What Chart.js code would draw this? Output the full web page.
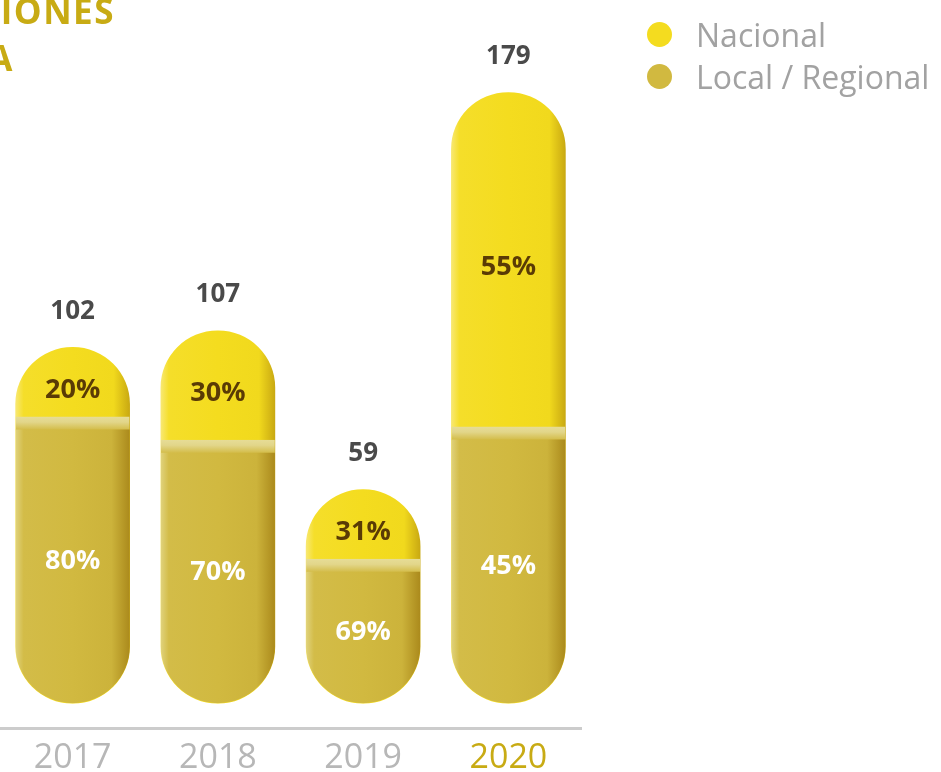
<!DOCTYPE html>
<html>
<head>
<meta charset="utf-8">
<script src="https://cdn.jsdelivr.net/npm/chart.js@4/dist/chart.umd.min.js"></script>
<style>
  html, body { margin: 0; padding: 0; background: #ffffff; }
  #wrap { position: relative; width: 941px; height: 772px; overflow: hidden; }
  #chart { position: absolute; left: 0; top: 0; }
  .title { position: absolute; font-family: 'Open Sans', sans-serif; font-weight: 700; font-size: 35px;
           letter-spacing: 1.5px; color: #c8ab14; white-space: nowrap; text-align: right; line-height: 1; }
  #legend { position: absolute; left: 647px; top: 13px; font-family: 'Open Sans', sans-serif; }
  .lg { display: flex; align-items: center; height: 42px; font-size: 32px; color: #a2a2a2; }
  .dot { width: 25px; height: 25px; border-radius: 50%; margin-right: 24px; }
</style>
</head>
<body>
<div id="wrap">
  <canvas id="chart" width="941" height="788"></canvas>
  <div class="title" style="right:826px; top:-7px;">PUBLICACIONES</div>
  <div class="title" style="right:927px; top:40px;">POR COBERTURA</div>
  <div id="legend"></div>
</div>
<script>
// ---- data ----
const years = ['2017', '2018', '2019', '2020'];
const totals = [102, 107, 59, 179];          // whole pill (total publications)
const localCounts = [81, 74, 38, 78];        // Local / Regional part (height)
const nacionalPct = ['20%', '30%', '31%', '55%'];
const localPct = ['80%', '70%', '69%', '45%'];
const seriesNames = ['Nacional', 'Local / Regional'];
const seriesColors = ['#f4dc1f', '#d1b940'];

const BAR_W = 114;
const BAR_BASE = -5.5;

function hGrad(chart, idx, stops) {
  const xs = chart.scales.x;
  if (!xs || !chart.chartArea) return stops[2][1];
  const cx = xs.getPixelForValue(idx);
  const g = chart.ctx.createLinearGradient(cx - BAR_W / 2, 0, cx + BAR_W / 2, 0);
  stops.forEach(s => g.addColorStop(s[0], s[1]));
  return g;
}
function bandGrad(chart, idx) {
  const ys = chart.scales.y;
  if (!ys || !chart.chartArea) return '#e4d98f';
  const top = ys.getPixelForValue(localCounts[idx]);
  const g = chart.ctx.createLinearGradient(0, top, 0, top + 13);
  g.addColorStop(0, '#e6dc96');
  g.addColorStop(0.4, '#e2d68a');
  g.addColorStop(1, '#d3bc48');
  return g;
}
const nacStops = [[0, '#f8e872'], [0.07, '#f5de2a'], [0.5, '#f4dc1f'], [0.86, '#f1d91d'], [1, '#c9a912']];
const locStops = [[0, '#e0d27c'], [0.07, '#d3bc48'], [0.5, '#d1b940'], [0.84, '#ccb33b'], [1, '#ab8a1c']];

const labelPlugin = {
  id: 'labels',
  afterDatasetsDraw(chart) {
    const ctx = chart.ctx;
    const nac = chart.getDatasetMeta(0).data;
    const loc = chart.getDatasetMeta(1).data;
    ctx.save();
    ctx.textAlign = 'center';
    ctx.textBaseline = 'middle';
    years.forEach((y, i) => {
      const n = nac[i], l = loc[i];
      ctx.font = '700 26px "Open Sans", sans-serif';
      ctx.fillStyle = '#4a4a4a';
      ctx.fillText(String(totals[i]), n.x, n.y - 36);
      ctx.font = '700 27px "Open Sans", sans-serif';
      ctx.fillStyle = '#5a3b05';
      ctx.fillText(nacionalPct[i], n.x, (n.y + l.y) / 2 + 8);
      ctx.fillStyle = '#ffffff';
      ctx.fillText(localPct[i], l.x, (l.y + l.base) / 2 + 1);
    });
    ctx.restore();
  }
};

const chart = new Chart(document.getElementById('chart'), {
  type: 'bar',
  data: {
    labels: years,
    datasets: [
      {
        label: seriesNames[0],
        data: totals,
        order: 2,
        base: BAR_BASE,
        grouped: false,
        barThickness: BAR_W,
        borderRadius: 57,
        borderSkipped: false,
        backgroundColor: (c) => hGrad(c.chart, c.dataIndex, nacStops)
      },
      {
        label: seriesNames[1],
        data: localCounts,
        order: 1,
        base: BAR_BASE,
        grouped: false,
        barThickness: BAR_W,
        borderRadius: { topLeft: 0, topRight: 0, bottomLeft: 57, bottomRight: 57 },
        borderSkipped: false,
        borderWidth: { top: 13, left: 0, right: 0, bottom: 0 },
        borderColor: (c) => bandGrad(c.chart, c.dataIndex),
        backgroundColor: (c) => hGrad(c.chart, c.dataIndex, locStops)
      }
    ]
  },
  options: {
    responsive: false,
    animation: false,
    layout: { padding: { left: 0, right: 360, top: 23, bottom: 0 } },
    plugins: { legend: { display: false }, tooltip: { enabled: false } },
    scales: {
      x: {
        grid: { display: false, drawTicks: false },
        border: { display: true, color: '#cccccc', width: 3 },
        ticks: {
          padding: 13,
          font: { family: 'Open Sans', size: 34, weight: 400, lineHeight: 1 },
          color: (c) => c.index === 3 ? '#c8ab14' : '#b7b7b7'
        }
      },
      y: { display: false, min: -13, max: 200 }
    }
  },
  plugins: [labelPlugin]
});

// legend built from the dataset definitions
const lg = document.getElementById('legend');
chart.data.datasets.forEach((ds, i) => {
  const row = document.createElement('div');
  row.className = 'lg';
  const dot = document.createElement('span');
  dot.className = 'dot';
  dot.style.background = seriesColors[i];
  row.appendChild(dot);
  row.appendChild(document.createTextNode(ds.label));
  lg.appendChild(row);
});
</script>
</body>
</html>
